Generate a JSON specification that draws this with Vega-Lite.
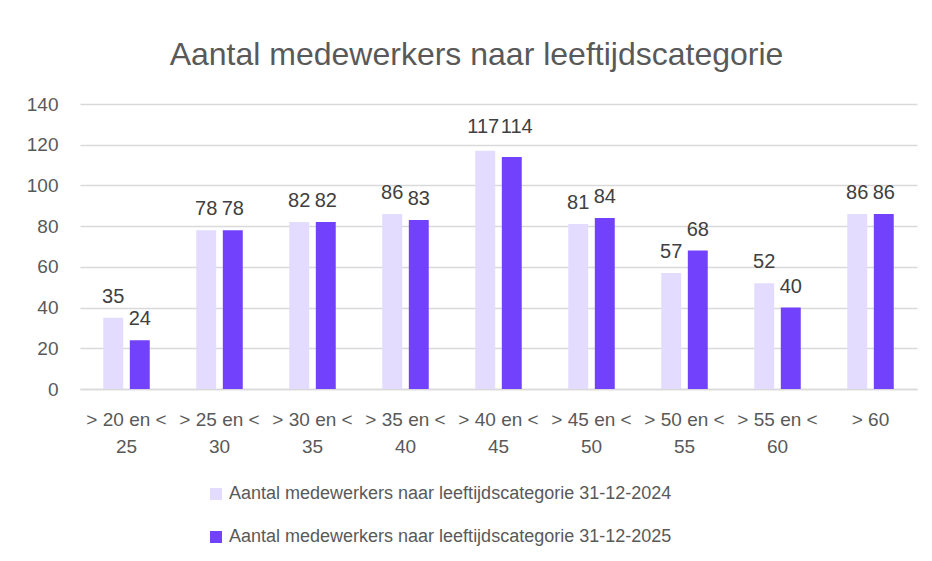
{
  "$schema": "https://vega.github.io/schema/vega-lite/v6.json",
  "width": 837,
  "height": 285,
  "autosize": "none",
  "padding": {"left": 80, "top": 104, "right": 15, "bottom": 172},
  "background": "white",
  "title": {"text": "Aantal medewerkers naar leeftijdscategorie", "fontSize": 32, "font": "Liberation Sans", "fontWeight": "normal", "color": "#595959", "anchor": "middle", "offset": 23, "dx": -22},
  "config": {
    "font": "Liberation Sans",
    "view": {"stroke": null},
    "axis": {"labelFont": "Liberation Sans", "labelFontSize": 19, "labelColor": "#595959", "titleFontSize": 18}
  },
  "data": {"values": [
    {"cat": "> 20 en < 25", "serie": "Aantal medewerkers naar leeftijdscategorie  31-12-2024", "value": 35},
    {"cat": "> 20 en < 25", "serie": "Aantal medewerkers naar leeftijdscategorie  31-12-2025", "value": 24},
    {"cat": "> 25 en < 30", "serie": "Aantal medewerkers naar leeftijdscategorie  31-12-2024", "value": 78},
    {"cat": "> 25 en < 30", "serie": "Aantal medewerkers naar leeftijdscategorie  31-12-2025", "value": 78},
    {"cat": "> 30 en < 35", "serie": "Aantal medewerkers naar leeftijdscategorie  31-12-2024", "value": 82},
    {"cat": "> 30 en < 35", "serie": "Aantal medewerkers naar leeftijdscategorie  31-12-2025", "value": 82},
    {"cat": "> 35 en < 40", "serie": "Aantal medewerkers naar leeftijdscategorie  31-12-2024", "value": 86},
    {"cat": "> 35 en < 40", "serie": "Aantal medewerkers naar leeftijdscategorie  31-12-2025", "value": 83},
    {"cat": "> 40 en < 45", "serie": "Aantal medewerkers naar leeftijdscategorie  31-12-2024", "value": 117},
    {"cat": "> 40 en < 45", "serie": "Aantal medewerkers naar leeftijdscategorie  31-12-2025", "value": 114},
    {"cat": "> 45 en < 50", "serie": "Aantal medewerkers naar leeftijdscategorie  31-12-2024", "value": 81},
    {"cat": "> 45 en < 50", "serie": "Aantal medewerkers naar leeftijdscategorie  31-12-2025", "value": 84},
    {"cat": "> 50 en < 55", "serie": "Aantal medewerkers naar leeftijdscategorie  31-12-2024", "value": 57},
    {"cat": "> 50 en < 55", "serie": "Aantal medewerkers naar leeftijdscategorie  31-12-2025", "value": 68},
    {"cat": "> 55 en < 60", "serie": "Aantal medewerkers naar leeftijdscategorie  31-12-2024", "value": 52},
    {"cat": "> 55 en < 60", "serie": "Aantal medewerkers naar leeftijdscategorie  31-12-2025", "value": 40},
    {"cat": "> 60", "serie": "Aantal medewerkers naar leeftijdscategorie  31-12-2024", "value": 86},
    {"cat": "> 60", "serie": "Aantal medewerkers naar leeftijdscategorie  31-12-2025", "value": 86}
  ]},
  "encoding": {
    "x": {"field": "cat", "type": "nominal", "sort": null,
      "scale": {"paddingInner": 0.5, "paddingOuter": 0.25},
      "axis": {"title": null, "labelAngle": 0, "ticks": false, "domainColor": "#d9d9d9", "domainWidth": 1.5, "labelPadding": 21, "labelLineHeight": 27, "labelBaseline": "top",
        "labelExpr": "split(replace(datum.value, '< ', '<|'), '|')"}},
    "xOffset": {"field": "serie", "type": "nominal", "scale": {"paddingInner": 0.25}},
    "y": {"field": "value", "type": "quantitative",
      "scale": {"domain": [0, 140]},
      "axis": {"title": null, "values": [0, 20, 40, 60, 80, 100, 120, 140], "domain": false, "ticks": false, "labelPadding": 22, "gridColor": "#d9d9d9", "gridWidth": 1.5}}
  },
  "layer": [
    {
      "mark": {"type": "bar"},
      "encoding": {
        "color": {"field": "serie", "type": "nominal",
          "scale": {"range": ["#e3dcff", "#7241fb"]},
          "legend": {"title": null, "orient": "none", "legendX": 127, "legendY": 381, "direction": "vertical", "symbolType": "square", "symbolSize": 144, "symbolStrokeWidth": 0, "labelFontSize": 18, "labelColor": "#595959", "labelFont": "Liberation Sans", "labelLimit": 0, "rowPadding": 25, "labelOffset": 4}}
      }
    },
    {
      "transform": [{"filter": "datum.cat != '> 40 en < 45'"}],
      "mark": {"type": "text", "baseline": "alphabetic", "dy": -15, "fontSize": 20, "color": "#404040"},
      "encoding": {"text": {"field": "value", "type": "quantitative"}}
    },
    {
      "transform": [{"filter": "datum.cat == '> 40 en < 45' && datum.value == 117"}],
      "mark": {"type": "text", "baseline": "alphabetic", "dy": -18, "dx": -2, "fontSize": 20, "color": "#404040"},
      "encoding": {"text": {"field": "value", "type": "quantitative"}}
    },
    {
      "transform": [{"filter": "datum.cat == '> 40 en < 45' && datum.value == 114"}],
      "mark": {"type": "text", "baseline": "alphabetic", "dy": -24, "dx": 5, "fontSize": 20, "color": "#404040"},
      "encoding": {"text": {"field": "value", "type": "quantitative"}}
    }
  ]
}
